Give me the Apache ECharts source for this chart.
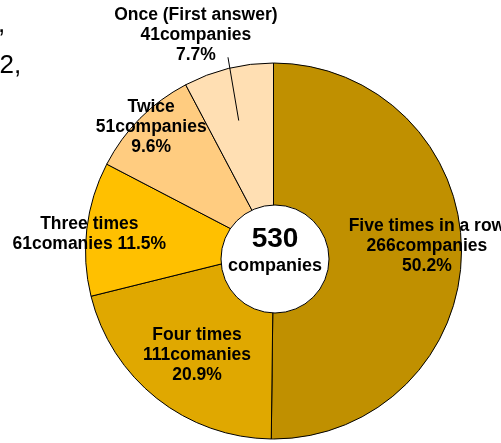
<!DOCTYPE html>
<html>
<head>
<meta charset="utf-8">
<script src="https://cdn.jsdelivr.net/npm/echarts@6/dist/echarts.min.js"></script>
<style>
  html, body { margin: 0; padding: 0; background: #fff; }
  #chart { width: 501px; height: 443px; }
</style>
</head>
<body>
<div id="chart"></div>
<script>
// Survey response counts, one slice per answer group
const categories = ['Five times in a row', 'Four times', 'Three times', 'Twice', 'Once (First answer)'];
const counts = [266, 111, 61, 51, 41];
const unitWords = ['companies', 'comanies', 'comanies', 'companies', 'companies'];
const totalCompanies = 530;
const centerUnit = 'companies';
const sliceColors = ['#C09000', '#E0A800', '#FFC000', '#FFCC80', '#FFDFB3'];

// label placement (polar: distance from centre, angle nudge in degrees)
const labelRadius = [153.5, 129, 185, 174, 229.5];
const labelShift = [-2.2, -2, -1.5, 0.5, -5.85];
const percentJoin = ['\n', '\n', ' ', '\n', '\n'];

const CX = 273.5, CY = 251, R = 188;
const sum = counts.reduce((a, b) => a + b, 0);

function midAngleDeg(i) {
  let before = 0;
  for (let k = 0; k < i; k++) before += counts[k];
  return (before + counts[i] / 2) / sum * 360;
}
function polar(r, deg) {
  const t = deg * Math.PI / 180;
  return [CX + r * Math.sin(t), CY - r * Math.cos(t)];
}

const chart = echarts.init(document.getElementById('chart'), null, { renderer: 'canvas' });
const FONT = '"Liberation Sans", Arial, sans-serif';

// leader line for the smallest slice, drawn along its middle angle
const onceMid = midAngleDeg(4);
const leader = [polar(135, onceMid - 1), polar(199, onceMid + 0.7)];

chart.setOption({
  animation: false,
  graphic: [
    { type: 'text', left: -2, top: 12, style: { text: ',', font: '26px ' + FONT, fill: '#000' } },
    { type: 'text', left: -0.5, top: 53, style: { text: '2,', font: '26px ' + FONT, fill: '#000' } },
    { type: 'polyline', z: 100, silent: true, shape: { points: leader }, style: { stroke: '#000', lineWidth: 1, fill: null } }
  ],
  series: [
    {
      type: 'pie',
      center: [CX, CY],
      radius: [0, R],
      startAngle: 90,
      clockwise: true,
      avoidLabelOverlap: false,
      silent: true,
      itemStyle: { borderColor: '#000', borderWidth: 1 },
      label: {
        show: true,
        position: 'inside',
        color: '#000',
        fontFamily: FONT,
        fontWeight: 'bold',
        fontSize: 17.5,
        lineHeight: 20,
        align: 'center',
        formatter: function (p) {
          const i = p.dataIndex;
          const pct = (counts[i] / sum * 100).toFixed(1) + '%';
          return categories[i] + '\n' + counts[i] + unitWords[i] + percentJoin[i] + pct;
        }
      },
      labelLine: { show: false },
      labelLayout: function (params) {
        const i = params.dataIndex;
        const p = polar(labelRadius[i], midAngleDeg(i) + labelShift[i]);
        return { x: p[0], y: p[1], align: 'center', verticalAlign: 'middle' };
      },
      data: categories.map((name, i) => ({
        name: name,
        value: counts[i],
        itemStyle: { color: sliceColors[i] }
      }))
    },
    {
      type: 'pie',
      center: [275, 259],
      radius: [0, 54],
      silent: true,
      z: 5,
      itemStyle: { color: '#fff', borderColor: '#000', borderWidth: 1 },
      label: {
        show: true,
        position: 'center',
        offset: [0, -8],
        fontFamily: FONT,
        fontWeight: 'bold',
        color: '#000',
        formatter: function (p) { return '{a|' + p.value + '}\n{b|' + centerUnit + '}'; },
        rich: {
          a: { fontFamily: FONT, fontWeight: 'bold', fontSize: 28, lineHeight: 30, color: '#000' },
          b: { fontFamily: FONT, fontWeight: 'bold', fontSize: 18, lineHeight: 24, color: '#000' }
        }
      },
      labelLine: { show: false },
      data: [{ value: totalCompanies, name: 'total' }]
    }
  ]
});
</script>
</body>
</html>
